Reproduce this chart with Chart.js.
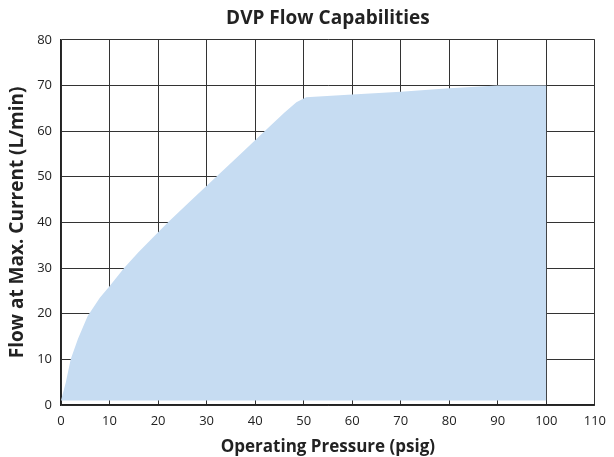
<!DOCTYPE html>
<html>
<head>
<meta charset="utf-8">
<script src="https://cdn.jsdelivr.net/npm/chart.js@4"></script>
<style>
  html, body { margin: 0; padding: 0; background: #fff; }
  #wrap { width: 614px; height: 457px; }
</style>
</head>
<body>
<div id="wrap"><canvas id="flowChart"></canvas></div>
<script>
// Datos
const pressure = [0, 1, 2, 3.5, 5.5, 8, 10, 13, 16, 22, 27, 32, 37, 42, 46, 48.5, 50.5, 60, 70, 80, 90, 100];
const flow = [1, 5, 10, 14.5, 19.5, 23.5, 26, 30, 33.5, 40, 45, 50, 55, 60, 64, 66.3, 67.4, 68, 68.6, 69.4, 70, 70];
const xTicks = [0, 10, 20, 30, 40, 50, 60, 70, 80, 90, 100, 110];
const yTicks = [0, 10, 20, 30, 40, 50, 60, 70, 80];

const FONT = "'Open Sans', sans-serif";
const points = pressure.map((p, i) => ({ x: p, y: flow[i] }));

const ctx = document.getElementById('flowChart').getContext('2d');
const flowChart = new Chart(ctx, {
    type: 'line',
    data: {
        datasets: [{
            label: 'Flow',
            data: points,
            borderWidth: 0,
            borderColor: 'rgba(0,0,0,0)',
            backgroundColor: '#c6dcf2',
            pointRadius: 0,
            tension: 0,
            fill: { value: 1 }
        }]
    },
    options: {
        responsive: true,
        maintainAspectRatio: false,
        animation: false,
        layout: { padding: { left: 0, right: 14, top: 0, bottom: 0 } },
        scales: {
            x: {
                type: 'linear',
                min: 0,
                max: 110,
                z: 1,
                afterBuildTicks: s => { s.ticks = xTicks.map(v => ({ value: v })); },
                afterFit: s => { s.height = 52; },
                grid: { color: '#333', lineWidth: 1, drawTicks: false },
                border: { color: '#222', width: 1.5 },
                ticks: { color: '#222', padding: 8, font: { family: FONT, size: 13 } },
                title: {
                    display: true,
                    text: 'Operating Pressure (psig)',
                    color: '#222',
                    padding: { top: 1, bottom: 0 },
                    font: { family: FONT, size: 17, weight: 'bold' }
                }
            },
            y: {
                type: 'linear',
                min: 0,
                max: 80,
                z: 1,
                afterBuildTicks: s => { s.ticks = yTicks.map(v => ({ value: v })); },
                afterFit: s => { s.width = 61; },
                grid: { color: '#333', lineWidth: 1, drawTicks: false },
                border: { color: '#222', width: 1.5 },
                ticks: { color: '#222', padding: 9, font: { family: FONT, size: 13 } },
                title: {
                    display: true,
                    text: 'Flow at Max. Current (L/min)',
                    color: '#222',
                    padding: { top: 6, bottom: 4 },
                    font: { family: FONT, size: 19, weight: 'bold' }
                }
            }
        },
        plugins: {
            legend: { display: false },
            tooltip: { enabled: false },
            title: {
                display: true,
                text: 'DVP Flow Capabilities',
                fullSize: false,
                color: '#222',
                padding: { top: 7, bottom: 10 },
                font: { family: FONT, size: 19, weight: 'bold' }
            }
        }
    }
});
</script>
</body>
</html>
